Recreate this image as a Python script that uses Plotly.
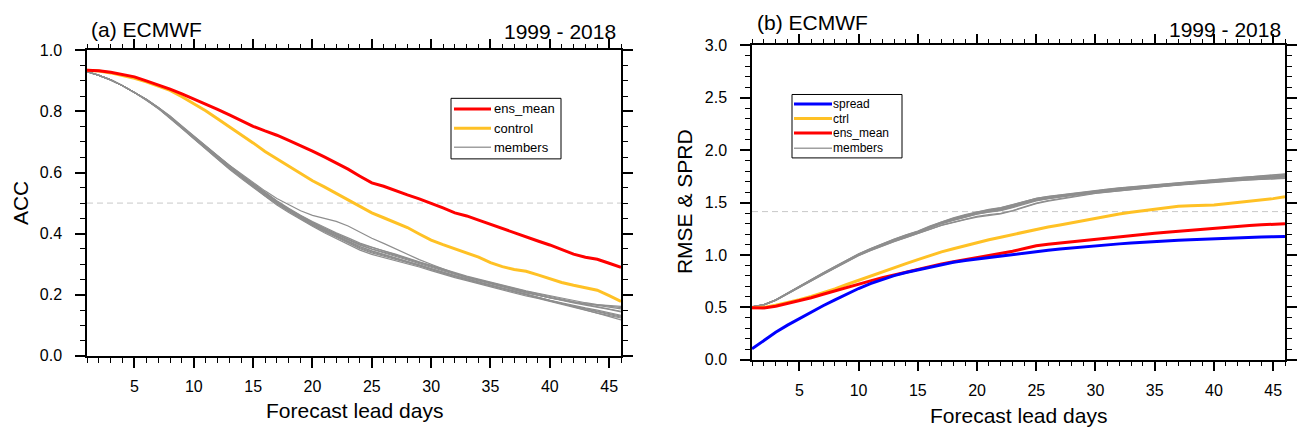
import plotly.graph_objects as go

# ---------------- data ----------------
lead_days = list(range(1, 47))

# (a) anomaly correlation coefficient
acc_ens_mean = [0.935, 0.933, 0.928, 0.921, 0.913, 0.900, 0.887, 0.873, 0.857, 0.841,
                0.824, 0.807, 0.789, 0.770, 0.751, 0.736, 0.722, 0.705, 0.688, 0.670,
                0.651, 0.632, 0.611, 0.588, 0.566, 0.555, 0.540, 0.527, 0.514, 0.500,
                0.484, 0.468, 0.458, 0.444, 0.430, 0.416, 0.403, 0.390, 0.376, 0.363,
                0.348, 0.333, 0.323, 0.316, 0.303, 0.290]
acc_control = [0.935, 0.932, 0.926, 0.918, 0.908, 0.897, 0.884, 0.869, 0.848, 0.826,
               0.802, 0.776, 0.750, 0.724, 0.697, 0.669, 0.645, 0.621, 0.597, 0.573,
               0.553, 0.532, 0.510, 0.490, 0.468, 0.452, 0.437, 0.420, 0.399, 0.379,
               0.364, 0.350, 0.337, 0.323, 0.305, 0.292, 0.283, 0.277, 0.265, 0.253,
               0.240, 0.231, 0.224, 0.215, 0.197, 0.178]
acc_members = [
    [0.930, 0.918, 0.903, 0.884, 0.862, 0.840, 0.813, 0.784, 0.751, 0.718, 0.686, 0.655, 0.624, 0.595, 0.568, 0.540,
     0.515, 0.494, 0.475, 0.460, 0.450, 0.440, 0.425, 0.405, 0.385, 0.368, 0.350, 0.332, 0.315, 0.300, 0.285, 0.270,
     0.258, 0.247, 0.236, 0.226, 0.216, 0.206, 0.198, 0.190, 0.182, 0.175, 0.170, 0.168, 0.165, 0.162],
    [0.930, 0.918, 0.903, 0.884, 0.862, 0.837, 0.809, 0.778, 0.744, 0.710, 0.676, 0.643, 0.611, 0.580, 0.551, 0.521,
     0.494, 0.469, 0.446, 0.424, 0.403, 0.384, 0.365, 0.346, 0.332, 0.322, 0.312, 0.302, 0.291, 0.279, 0.267, 0.256,
     0.246, 0.236, 0.225, 0.216, 0.206, 0.196, 0.188, 0.178, 0.168, 0.158, 0.149, 0.140, 0.132, 0.124],
    [0.930, 0.918, 0.903, 0.884, 0.862, 0.839, 0.812, 0.782, 0.749, 0.716, 0.683, 0.651, 0.620, 0.590, 0.561, 0.531,
     0.504, 0.480, 0.458, 0.437, 0.418, 0.400, 0.382, 0.364, 0.350, 0.340, 0.329, 0.317, 0.305, 0.293, 0.281, 0.268,
     0.257, 0.248, 0.238, 0.229, 0.219, 0.208, 0.199, 0.190, 0.183, 0.176, 0.168, 0.161, 0.153, 0.146],
    [0.930, 0.918, 0.903, 0.884, 0.862, 0.838, 0.811, 0.781, 0.747, 0.713, 0.680, 0.647, 0.615, 0.585, 0.557, 0.527,
     0.500, 0.474, 0.451, 0.429, 0.409, 0.391, 0.372, 0.354, 0.340, 0.330, 0.320, 0.309, 0.298, 0.286, 0.274, 0.262,
     0.251, 0.241, 0.231, 0.222, 0.212, 0.202, 0.192, 0.182, 0.174, 0.165, 0.157, 0.150, 0.142, 0.133],
    [0.930, 0.918, 0.903, 0.884, 0.862, 0.840, 0.813, 0.783, 0.750, 0.717, 0.685, 0.653, 0.621, 0.591, 0.563, 0.533,
     0.506, 0.481, 0.458, 0.436, 0.416, 0.398, 0.381, 0.366, 0.354, 0.344, 0.333, 0.320, 0.307, 0.294, 0.281, 0.270,
     0.259, 0.249, 0.240, 0.231, 0.221, 0.211, 0.203, 0.194, 0.186, 0.178, 0.171, 0.166, 0.160, 0.154],
    [0.930, 0.918, 0.903, 0.884, 0.862, 0.838, 0.811, 0.780, 0.746, 0.712, 0.679, 0.647, 0.616, 0.586, 0.558, 0.528,
     0.501, 0.476, 0.452, 0.430, 0.410, 0.392, 0.375, 0.358, 0.344, 0.333, 0.321, 0.309, 0.296, 0.284, 0.273, 0.262,
     0.252, 0.242, 0.232, 0.221, 0.210, 0.200, 0.190, 0.181, 0.172, 0.163, 0.155, 0.147, 0.139, 0.130],
    [0.930, 0.918, 0.903, 0.884, 0.862, 0.839, 0.812, 0.782, 0.748, 0.715, 0.682, 0.650, 0.619, 0.589, 0.561, 0.532,
     0.505, 0.479, 0.456, 0.434, 0.414, 0.396, 0.378, 0.362, 0.349, 0.338, 0.326, 0.314, 0.302, 0.290, 0.277, 0.265,
     0.255, 0.245, 0.235, 0.226, 0.217, 0.207, 0.199, 0.190, 0.181, 0.173, 0.166, 0.160, 0.152, 0.144],
    [0.930, 0.918, 0.903, 0.884, 0.862, 0.837, 0.810, 0.779, 0.745, 0.711, 0.677, 0.645, 0.613, 0.583, 0.554, 0.524,
     0.497, 0.472, 0.449, 0.427, 0.406, 0.388, 0.369, 0.351, 0.337, 0.327, 0.316, 0.305, 0.294, 0.282, 0.270, 0.259,
     0.249, 0.239, 0.228, 0.218, 0.208, 0.198, 0.189, 0.180, 0.171, 0.162, 0.153, 0.145, 0.136, 0.127],
    [0.930, 0.918, 0.903, 0.884, 0.862, 0.840, 0.814, 0.785, 0.752, 0.719, 0.687, 0.655, 0.623, 0.593, 0.565, 0.535,
     0.508, 0.483, 0.460, 0.440, 0.421, 0.403, 0.386, 0.369, 0.356, 0.343, 0.330, 0.318, 0.306, 0.296, 0.284, 0.272,
     0.261, 0.251, 0.241, 0.232, 0.222, 0.213, 0.205, 0.197, 0.189, 0.180, 0.174, 0.168, 0.163, 0.158],
    [0.930, 0.918, 0.903, 0.884, 0.862, 0.838, 0.810, 0.780, 0.746, 0.713, 0.680, 0.648, 0.617, 0.587, 0.558, 0.529,
     0.502, 0.477, 0.453, 0.431, 0.411, 0.393, 0.374, 0.357, 0.343, 0.332, 0.320, 0.308, 0.296, 0.283, 0.271, 0.260,
     0.250, 0.240, 0.229, 0.219, 0.209, 0.199, 0.190, 0.181, 0.172, 0.160, 0.150, 0.140, 0.129, 0.118],
]
acc_reference = 0.5

# (b) RMSE of the control / ensemble mean / members and ensemble spread
spread = [0.104, 0.185, 0.262, 0.330, 0.393, 0.455, 0.515, 0.572, 0.627, 0.680,
          0.726, 0.768, 0.803, 0.832, 0.857, 0.885, 0.908, 0.930, 0.948, 0.963,
          0.978, 0.992, 1.006, 1.020, 1.034, 1.046, 1.057, 1.068, 1.078, 1.088,
          1.097, 1.106, 1.114, 1.122, 1.130, 1.136, 1.141, 1.146, 1.151, 1.155,
          1.159, 1.163, 1.167, 1.171, 1.174, 1.177]
rmse_ctrl = [0.497, 0.500, 0.520, 0.545, 0.572, 0.605, 0.640, 0.677, 0.718, 0.759,
             0.800, 0.840, 0.880, 0.918, 0.955, 0.995, 1.030, 1.060, 1.090, 1.120,
             1.145, 1.170, 1.195, 1.222, 1.247, 1.268, 1.287, 1.308, 1.330, 1.354,
             1.375, 1.392, 1.407, 1.422, 1.438, 1.455, 1.465, 1.470, 1.473, 1.478,
             1.488, 1.500, 1.512, 1.522, 1.538, 1.557]
rmse_ens_mean = [0.497, 0.495, 0.510, 0.535, 0.561, 0.592, 0.625, 0.658, 0.690, 0.723,
                 0.753, 0.782, 0.810, 0.838, 0.866, 0.893, 0.915, 0.935, 0.955, 0.973,
                 0.993, 1.013, 1.035, 1.062, 1.088, 1.103, 1.115, 1.127, 1.138, 1.149,
                 1.163, 1.178, 1.190, 1.199, 1.207, 1.218, 1.228, 1.237, 1.245, 1.253,
                 1.261, 1.271, 1.281, 1.288, 1.294, 1.299]
rmse_members = [
    [0.505, 0.526, 0.572, 0.638, 0.702, 0.765, 0.828, 0.889, 0.950, 1.010, 1.060, 1.106, 1.150, 1.190, 1.226, 1.272,
     1.315, 1.350, 1.382, 1.410, 1.432, 1.450, 1.478, 1.512, 1.540, 1.558, 1.572, 1.587, 1.602, 1.615, 1.626, 1.638,
     1.648, 1.658, 1.672, 1.682, 1.691, 1.700, 1.711, 1.721, 1.729, 1.737, 1.745, 1.752, 1.760, 1.770],
    [0.505, 0.523, 0.566, 0.630, 0.692, 0.753, 0.815, 0.876, 0.936, 0.995, 1.043, 1.088, 1.130, 1.168, 1.203, 1.245,
     1.285, 1.315, 1.342, 1.368, 1.385, 1.398, 1.425, 1.462, 1.495, 1.520, 1.540, 1.558, 1.575, 1.590, 1.602, 1.615,
     1.626, 1.636, 1.650, 1.660, 1.669, 1.678, 1.688, 1.698, 1.704, 1.711, 1.717, 1.722, 1.728, 1.735],
    [0.506, 0.525, 0.570, 0.636, 0.699, 0.761, 0.823, 0.884, 0.945, 1.004, 1.053, 1.099, 1.142, 1.181, 1.218, 1.264,
     1.307, 1.342, 1.374, 1.402, 1.423, 1.440, 1.468, 1.503, 1.530, 1.548, 1.563, 1.578, 1.593, 1.606, 1.617, 1.629,
     1.639, 1.649, 1.663, 1.673, 1.682, 1.691, 1.702, 1.712, 1.720, 1.727, 1.734, 1.740, 1.747, 1.756],
    [0.504, 0.524, 0.568, 0.633, 0.696, 0.758, 0.820, 0.881, 0.942, 1.001, 1.050, 1.096, 1.139, 1.178, 1.214, 1.258,
     1.300, 1.333, 1.364, 1.392, 1.412, 1.428, 1.457, 1.493, 1.521, 1.540, 1.556, 1.572, 1.587, 1.600, 1.611, 1.623,
     1.633, 1.643, 1.657, 1.667, 1.676, 1.685, 1.696, 1.706, 1.713, 1.720, 1.726, 1.732, 1.739, 1.747],
    [0.505, 0.526, 0.571, 0.637, 0.700, 0.763, 0.825, 0.886, 0.947, 1.006, 1.056, 1.102, 1.145, 1.185, 1.221, 1.268,
     1.311, 1.347, 1.379, 1.407, 1.428, 1.445, 1.473, 1.508, 1.535, 1.553, 1.568, 1.583, 1.598, 1.611, 1.622, 1.634,
     1.644, 1.654, 1.668, 1.678, 1.687, 1.696, 1.707, 1.717, 1.725, 1.732, 1.739, 1.746, 1.753, 1.762],
    [0.505, 0.524, 0.569, 0.634, 0.697, 0.759, 0.821, 0.882, 0.943, 1.002, 1.051, 1.097, 1.140, 1.179, 1.215, 1.260,
     1.303, 1.337, 1.369, 1.397, 1.417, 1.433, 1.461, 1.497, 1.524, 1.543, 1.558, 1.573, 1.588, 1.601, 1.613, 1.625,
     1.635, 1.645, 1.659, 1.669, 1.678, 1.687, 1.698, 1.708, 1.715, 1.722, 1.729, 1.735, 1.742, 1.750],
    [0.506, 0.527, 0.573, 0.639, 0.703, 0.766, 0.829, 0.890, 0.951, 1.011, 1.061, 1.108, 1.152, 1.192, 1.229, 1.275,
     1.318, 1.354, 1.386, 1.414, 1.435, 1.452, 1.480, 1.514, 1.541, 1.559, 1.574, 1.589, 1.604, 1.617, 1.628, 1.640,
     1.650, 1.660, 1.674, 1.684, 1.693, 1.702, 1.713, 1.723, 1.731, 1.739, 1.747, 1.754, 1.762, 1.774],
    [0.504, 0.522, 0.565, 0.629, 0.691, 0.752, 0.813, 0.874, 0.934, 0.993, 1.041, 1.086, 1.128, 1.166, 1.201, 1.243,
     1.282, 1.312, 1.338, 1.362, 1.378, 1.392, 1.420, 1.458, 1.490, 1.514, 1.534, 1.553, 1.571, 1.587, 1.600, 1.613,
     1.624, 1.634, 1.648, 1.658, 1.667, 1.676, 1.686, 1.696, 1.703, 1.710, 1.716, 1.721, 1.726, 1.731],
    [0.505, 0.525, 0.570, 0.635, 0.698, 0.760, 0.822, 0.883, 0.944, 1.003, 1.052, 1.098, 1.141, 1.180, 1.216, 1.262,
     1.305, 1.340, 1.372, 1.400, 1.420, 1.436, 1.465, 1.500, 1.527, 1.545, 1.560, 1.575, 1.590, 1.603, 1.614, 1.626,
     1.636, 1.646, 1.660, 1.670, 1.679, 1.688, 1.699, 1.709, 1.716, 1.723, 1.730, 1.736, 1.743, 1.752],
    [0.505, 0.524, 0.568, 0.632, 0.694, 0.756, 0.818, 0.879, 0.940, 0.999, 1.048, 1.094, 1.136, 1.175, 1.211, 1.256,
     1.298, 1.331, 1.362, 1.389, 1.408, 1.424, 1.452, 1.488, 1.517, 1.537, 1.553, 1.569, 1.585, 1.598, 1.610, 1.622,
     1.632, 1.642, 1.656, 1.666, 1.675, 1.684, 1.695, 1.705, 1.712, 1.719, 1.725, 1.731, 1.738, 1.744],
]
rmse_reference = 1.414

# legend entries per panel: (label, colour, line width)
legend_a = [("ens_mean", "#FF0000", 3), ("control", "#FFC125", 3), ("members", "#A0A0A0", 1.5)]
legend_b = [("spread", "#0000FF", 3), ("ctrl", "#FFC125", 3), ("ens_mean", "#FF0000", 3), ("members", "#A0A0A0", 1.5)]

# ---------------- style ----------------
FONT = "Liberation Sans"
RED = "#FF0000"
GOLD = "#FFC125"
BLUE = "#0000FF"
GREY = "#8E8E8E"
W, H = 1299, 436

fig = go.Figure()


def add_line(x, y, color, width, name, xaxis, yaxis):
    fig.add_trace(go.Scatter(
        x=x, y=y, mode="lines", name=name,
        line=dict(color=color, width=width),
        xaxis=xaxis, yaxis=yaxis, showlegend=False, hoverinfo="skip",
    ))


# panel (a)
for m in acc_members:
    add_line(lead_days, m, GREY, 1.2, "members", "x", "y")
add_line(lead_days, acc_control, GOLD, 3, "control", "x", "y")
add_line(lead_days, acc_ens_mean, RED, 3, "ens_mean", "x", "y")

# panel (b)
for m in rmse_members:
    add_line(lead_days, m, GREY, 1.2, "members", "x2", "y2")
add_line(lead_days, rmse_ctrl, GOLD, 3, "ctrl", "x2", "y2")
add_line(lead_days, rmse_ens_mean, RED, 3, "ens_mean", "x2", "y2")
add_line(lead_days, spread, BLUE, 3, "spread", "x2", "y2")

# dashed reference levels
fig.add_shape(type="line", xref="x domain", yref="y", x0=0, x1=1, y0=acc_reference, y1=acc_reference,
              line=dict(color="#C8C8C8", width=1, dash="6px,4px"), layer="below")
fig.add_shape(type="line", xref="x2 domain", yref="y2", x0=0, x1=1, y0=rmse_reference, y1=rmse_reference,
              line=dict(color="#C8C8C8", width=1, dash="6px,4px"), layer="below")


def xaxis_style(domain, anchor):
    return dict(
        domain=domain, anchor=anchor, range=[1, 46],
        tickmode="linear", tick0=0, dtick=5,
        ticks="outside", ticklen=10, tickwidth=1.5, tickcolor="black",
        minor=dict(dtick=1, tick0=0, ticks="outside", ticklen=5, tickwidth=1, tickcolor="black"),
        showline=True, linecolor="black", linewidth=1.5, mirror="allticks",
        showgrid=False, zeroline=False, ticklabelstandoff=5,
        tickfont=dict(family=FONT, size=16, color="black"),
    )


def yaxis_style(domain, anchor, rng, major, minor):
    return dict(
        domain=domain, anchor=anchor, range=rng,
        tickmode="linear", tick0=0, dtick=major, tickformat=".1f",
        ticks="outside", ticklen=10, tickwidth=1.5, tickcolor="black",
        minor=dict(dtick=minor, tick0=0, ticks="outside", ticklen=5, tickwidth=1, tickcolor="black"),
        showline=True, linecolor="black", linewidth=1.5, mirror="allticks",
        showgrid=False, zeroline=False, ticklabelstandoff=10,
        tickfont=dict(family=FONT, size=16, color="black"),
    )


def px_x(p):
    return p / W


def px_y(p):
    return 1 - p / H


fig.update_layout(
    width=W, height=H,
    margin=dict(l=0, r=0, t=0, b=0),
    paper_bgcolor="white", plot_bgcolor="white",
    font=dict(family=FONT, color="black"),
    showlegend=False,
    xaxis=xaxis_style([px_x(87), px_x(621)], "y"),
    yaxis=yaxis_style([px_y(362), px_y(44)], "x", [0, 1], 0.2, 0.05),
    xaxis2=xaxis_style([px_x(752), px_x(1285)], "y2"),
    yaxis2=yaxis_style([px_y(366), px_y(39)], "x2", [0, 3], 0.5, 0.1),
)


def draw_legend(entries, box, rows, line_x, text_x, size):
    """Boxed legend: box=(left, top, right, bottom) and rows=y centres, in pixels."""
    left, top, right, bottom = box
    fig.add_shape(type="rect", xref="paper", yref="paper",
                  x0=px_x(left), x1=px_x(right), y0=px_y(bottom), y1=px_y(top),
                  line=dict(color="black", width=1), fillcolor="white", layer="above")
    for (label, color, width), ry in zip(entries, rows):
        fig.add_shape(type="line", xref="paper", yref="paper",
                      x0=px_x(line_x[0]), x1=px_x(line_x[1]), y0=px_y(ry), y1=px_y(ry),
                      line=dict(color=color, width=width), layer="above")
        fig.add_annotation(text=label, x=px_x(text_x), y=px_y(ry), xref="paper", yref="paper",
                           xanchor="left", yanchor="middle", showarrow=False,
                           font=dict(family=FONT, size=size, color="black"))


draw_legend(legend_a, (451, 94, 561, 157), [105, 125, 145], (454, 491), 492, 13)
draw_legend(legend_b, (792, 90, 902, 156), [100, 115, 130, 146], (794, 832), 831, 12)

annotations = [
    dict(text="(a) ECMWF", x=px_x(89), y=px_y(22), xanchor="left", yanchor="middle", size=21),
    dict(text="1999 - 2018", x=px_x(618), y=px_y(24), xanchor="right", yanchor="middle", size=21),
    dict(text="(b) ECMWF", x=px_x(755), y=px_y(15), xanchor="left", yanchor="middle", size=21),
    dict(text="1999 - 2018", x=px_x(1283), y=px_y(22), xanchor="right", yanchor="middle", size=21),
    dict(text="Forecast lead days", x=px_x(354), y=px_y(419), xanchor="center", yanchor="middle", size=21),
    dict(text="Forecast lead days", x=px_x(1018), y=px_y(424), xanchor="center", yanchor="middle", size=21),
    dict(text="ACC", x=px_x(20), y=px_y(203), xanchor="center", yanchor="middle", size=21, angle=-90),
    dict(text="RMSE &amp; SPRD", x=px_x(684), y=px_y(202), xanchor="center", yanchor="middle", size=21, angle=-90),
]
for a in annotations:
    fig.add_annotation(
        text=a["text"], x=a["x"], y=a["y"], xref="paper", yref="paper",
        xanchor=a["xanchor"], yanchor=a["yanchor"], showarrow=False,
        textangle=a.get("angle", 0),
        font=dict(family=FONT, size=a["size"], color="black"),
    )

fig.write_html("out.html")
